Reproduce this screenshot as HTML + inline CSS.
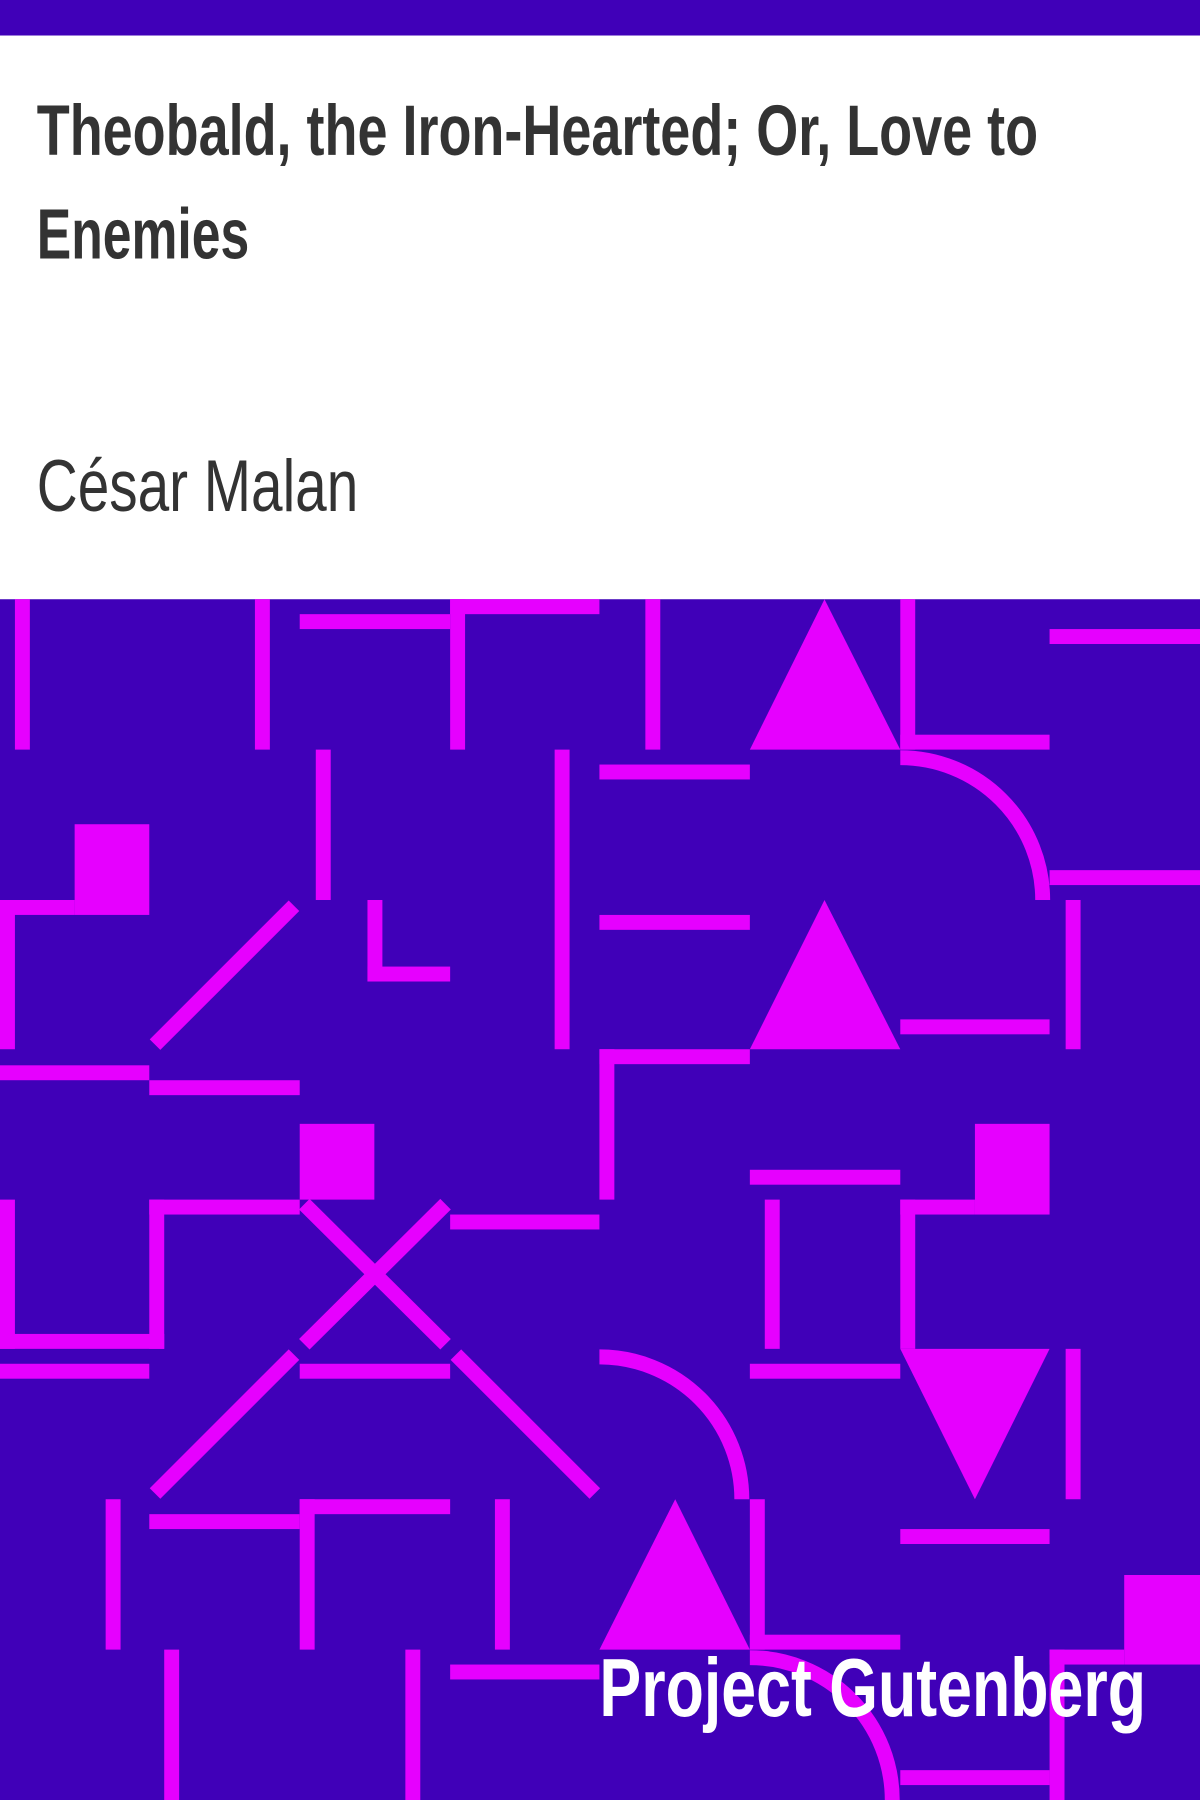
<!DOCTYPE html>
<html><head><meta charset="utf-8"><style>html,body{margin:0;padding:0;background:#fff}svg{display:block}</style></head>
<body>
<svg width="1200" height="1800" viewBox="0 0 1045 1568" preserveAspectRatio="none" xmlns="http://www.w3.org/2000/svg">
<rect x="0" y="0" width="1045" height="31" fill="#4000b8"/>
<rect x="0" y="31" width="1045" height="491" fill="#fff"/>
<text x="32" y="135" font-family="Liberation Sans Narrow, Liberation Sans, sans-serif" font-weight="bold" font-size="62" fill="#333" textLength="872" lengthAdjust="spacingAndGlyphs">Theobald, the Iron-Hearted; Or, Love to</text>
<text x="32" y="225" font-family="Liberation Sans Narrow, Liberation Sans, sans-serif" font-weight="bold" font-size="62" fill="#333" textLength="185" lengthAdjust="spacingAndGlyphs">Enemies</text>
<text x="32" y="445" font-family="Liberation Sans Narrow, Liberation Sans, sans-serif" font-size="64" fill="#333" textLength="280" lengthAdjust="spacingAndGlyphs">César Malan</text>
<g>
<rect x="0" y="522" width="1045" height="1046" fill="#4000b8"/>
<g fill="#e600ff">
<rect x="13" y="522" width="13" height="131"/>
<rect x="222" y="522" width="13" height="131"/>
<rect x="261" y="535" width="131" height="13"/>
<rect x="392" y="522" width="130" height="13"/>
<rect x="392" y="522" width="13" height="131"/>
<rect x="562" y="522" width="13" height="131"/>
<polygon points="653,653 784,653 718,522"/>
<rect x="784" y="522" width="13" height="131"/>
<rect x="784" y="640" width="130" height="13"/>
<rect x="914" y="548" width="131" height="13"/>
<rect x="275" y="653" width="13" height="131"/>
<rect x="483" y="653" width="13" height="261"/>
<rect x="522" y="666" width="131" height="13"/>
<rect x="914" y="758" width="131" height="13"/>
<rect x="65" y="718" width="65" height="79"/>
<rect x="0" y="784" width="65" height="13"/>
<rect x="0" y="784" width="13" height="130"/>
<rect x="522" y="797" width="131" height="13"/>
<rect x="320" y="784" width="13" height="71"/>
<rect x="320" y="842" width="72" height="13"/>
<polygon points="653,914 784,914 718,784"/>
<rect x="928" y="784" width="13" height="130"/>
<rect x="784" y="888" width="130" height="13"/>
<rect x="0" y="928" width="130" height="13"/>
<rect x="130" y="941" width="131" height="13"/>
<rect x="522" y="914" width="131" height="13"/>
<rect x="522" y="914" width="13" height="131"/>
<rect x="261" y="979" width="65" height="66"/>
<rect x="653" y="1019" width="131" height="13"/>
<rect x="849" y="979" width="65" height="79"/>
<rect x="0" y="1045" width="13" height="130"/>
<rect x="0" y="1162" width="143" height="13"/>
<rect x="130" y="1045" width="13" height="130"/>
<rect x="130" y="1045" width="131" height="13"/>
<rect x="392" y="1058" width="130" height="13"/>
<rect x="666" y="1045" width="13" height="130"/>
<rect x="784" y="1045" width="65" height="13"/>
<rect x="784" y="1045" width="13" height="130"/>
<polygon points="784,1175 914,1175 849,1306"/>
<rect x="0" y="1188" width="130" height="13"/>
<rect x="261" y="1188" width="131" height="13"/>
<rect x="653" y="1188" width="131" height="13"/>
<rect x="928" y="1175" width="13" height="131"/>
<rect x="92" y="1306" width="13" height="131"/>
<rect x="130" y="1319" width="131" height="13"/>
<rect x="261" y="1306" width="131" height="13"/>
<rect x="261" y="1306" width="13" height="131"/>
<rect x="431" y="1306" width="13" height="131"/>
<polygon points="522,1437 653,1437 588,1306"/>
<rect x="653" y="1306" width="13" height="131"/>
<rect x="653" y="1424" width="131" height="13"/>
<rect x="784" y="1332" width="130" height="13"/>
<rect x="979" y="1372" width="66" height="78"/>
<rect x="914" y="1437" width="65" height="13"/>
<rect x="914" y="1437" width="13" height="131"/>
<rect x="143" y="1437" width="13" height="131"/>
<rect x="353" y="1437" width="13" height="131"/>
<rect x="392" y="1450" width="130" height="13"/>
<rect x="784" y="1542" width="130" height="13"/>
</g>
<g stroke="#e600ff" stroke-width="13" fill="none">
<path d="M784,660 A124,124 0 0 1 908,784"/>
<path d="M522,1182 A124,124 0 0 1 646,1306"/>
<path d="M653,1444 A124,124 0 0 1 777,1568"/>
<line x1="256" y1="789" x2="135" y2="910"/>
<line x1="265" y1="1049" x2="388" y2="1171"/>
<line x1="388" y1="1049" x2="265" y2="1171"/>
<line x1="256" y1="1180" x2="135" y2="1301"/>
<line x1="397" y1="1180" x2="518" y2="1301"/>
</g>
</g>
<text x="998" y="1495" text-anchor="end" font-family="Liberation Sans Narrow, Liberation Sans, sans-serif" font-weight="bold" font-size="72" fill="#fff" textLength="476" lengthAdjust="spacingAndGlyphs">Project Gutenberg</text>
</svg>
</body></html>
